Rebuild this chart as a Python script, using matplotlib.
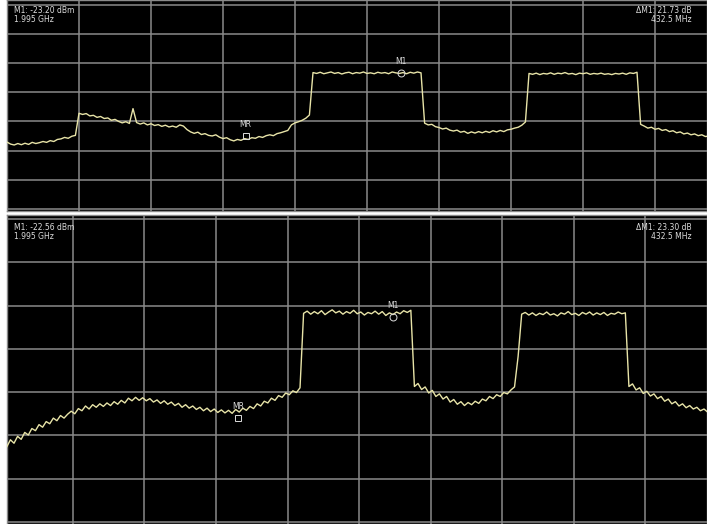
import matplotlib
matplotlib.use("Agg")
import matplotlib.pyplot as plt
import numpy as np

# --- sweep settings (MHz) ---
sweep_step_mhz = 10
top_start_mhz = 900
bottom_start_mhz = 915

# --- trace levels (dBm), one value every 10 MHz ---
top_levels = [
    -47.1, -47.8, -48.1, -47.6, -48.0, -47.5, -47.9, -47.2, -47.6, -47.3,   # 900
    -46.9, -47.2, -46.6, -46.9, -46.2, -46.0, -45.5, -45.8, -45.1, -44.8,   # 1000
    -37.2, -37.6, -37.3, -38.1, -37.9, -38.6, -38.3, -39.0, -38.8, -39.6,   # 1100
    -39.3, -40.0, -40.5, -40.1, -40.7, -35.6, -40.4, -40.9, -40.5, -41.2,   # 1200
    -40.8, -41.4, -41.1, -41.7, -41.3, -41.9, -41.6, -42.0, -41.2, -41.6,   # 1300
    -42.8, -43.6, -44.1, -43.7, -44.5, -44.2, -44.8, -45.0, -44.6, -45.4,   # 1400
    -45.9, -45.6, -46.3, -46.7, -46.2, -46.5, -45.9, -46.2, -45.6, -45.8,   # 1500
    -45.2, -45.5, -44.9, -44.6, -44.9, -44.2, -43.9, -43.5, -43.1, -41.2,   # 1600
    -40.5, -40.1, -39.6, -38.9, -37.8, -23.2, -23.5, -23.1, -23.6, -23.3,   # 1700
    -23.0, -23.5, -23.2, -23.7, -23.3, -23.1, -23.6, -23.2, -23.4, -23.0,   # 1800
    -23.5, -23.3, -23.6, -23.1, -23.4, -23.2, -23.6, -23.0, -23.3, -23.5,   # 1900
    -23.2, -23.6, -23.1, -23.4, -23.0, -23.3, -40.6, -41.2, -41.0, -41.8,   # 2000
    -42.1, -42.6, -42.3, -43.0, -43.3, -43.0, -43.7, -43.4, -44.1, -43.6,   # 2100
    -44.0, -43.5, -43.9, -43.4, -43.8, -43.2, -43.6, -43.1, -43.5, -42.9,   # 2200
    -42.7, -42.3, -42.0, -41.3, -40.2, -23.5, -23.8, -23.4, -23.9, -23.5,   # 2300
    -23.7, -23.3, -23.8, -23.4, -23.6, -23.2, -23.7, -23.5, -23.9, -23.4,   # 2400
    -23.6, -23.3, -23.8, -23.5, -23.7, -23.4, -23.8, -23.6, -23.9, -23.5,   # 2500
    -23.7, -23.4, -23.8, -23.3, -23.5, -23.1, -41.0, -41.6, -42.3, -42.0,   # 2600
    -42.7, -42.4, -43.1, -42.8, -43.5, -43.2, -43.9, -43.6, -44.3, -44.0,   # 2700
    -44.6, -44.3, -44.9, -44.6, -45.2, -45.0,                               # 2800
]

bottom_levels = [
    -52.6, -51.0, -51.8, -50.2, -50.9, -49.3, -49.9, -48.4, -48.9, -47.5,
    -48.1, -46.8, -47.3, -46.0, -46.6, -45.4, -46.0, -45.1, -44.4, -45.0,
    -43.8, -44.3, -43.2, -43.9, -42.9, -43.5, -42.7, -43.3, -42.5, -43.1,
    -42.2, -42.8, -41.9, -42.5, -41.4, -42.0, -41.2, -41.9, -41.3, -42.0,
    -41.5, -42.3, -41.8, -42.6, -42.0, -42.8, -42.3, -43.1, -42.6, -43.5,
    -42.9, -43.7, -43.2, -44.0, -43.5, -44.3, -43.7, -44.5, -43.9, -44.7,
    -44.1, -44.8, -44.2, -44.9, -44.0, -44.6, -43.7, -44.2, -43.3, -43.8,
    -42.7, -43.2, -42.1, -42.5, -41.4, -41.9, -40.8, -41.2, -40.2, -40.6,
    -39.7, -40.1, -39.0, -21.8, -21.3, -22.0, -21.4, -21.9, -21.2, -22.1,
    -21.5, -21.0, -21.7, -21.3, -22.0, -21.4, -21.8, -21.1, -21.9, -21.5,
    -22.2, -21.6, -21.9, -21.3, -22.0, -21.4, -22.3, -21.7, -22.1, -21.5,
    -21.9, -21.2, -21.6, -21.1, -38.7, -38.0, -39.4, -38.8, -40.2, -39.6,
    -41.0, -40.4, -41.6, -41.0, -42.3, -41.7, -42.8, -42.2, -43.1, -42.4,
    -42.9, -42.1, -42.6, -41.6, -42.0, -41.0, -41.5, -40.6, -41.0, -40.1,
    -40.4, -39.5, -38.8, -31.8, -22.0, -21.6, -22.2, -21.7, -22.3, -21.8,
    -22.1, -21.5, -22.2, -21.9, -22.4, -21.7, -22.0, -21.4, -22.1, -21.8,
    -22.3, -21.6, -22.0, -21.5, -22.2, -21.7, -22.1, -21.6, -22.3, -21.8,
    -22.0, -21.5, -21.9, -21.7, -38.7, -38.1, -39.5, -39.0, -40.3, -39.8,
    -40.9, -40.4, -41.5, -41.0, -42.1, -41.6, -42.7, -42.2, -43.2, -42.7,
    -43.6, -43.1, -43.9, -43.5, -44.3, -43.9, -44.6,
]

top_freq = top_start_mhz + sweep_step_mhz * np.arange(len(top_levels))
bottom_freq = bottom_start_mhz + sweep_step_mhz * np.arange(len(bottom_levels))

# --- markers ---
m1_freq = 1995.0
mr_freq = 1562.5
top_m1_level, top_mr_level = -23.20, -23.20 - 21.73
bot_m1_level, bot_mr_level = -22.56, -22.56 - 23.30

top_left_text = "M1: -23.20 dBm\n1.995 GHz"
top_right_text = "\u0394M1: 21.73 dB\n432.5 MHz"
bot_left_text = "M1: -22.56 dBm\n1.995 GHz"
bot_right_text = "\u0394M1: 23.30 dB\n432.5 MHz"

# --- style ---
W, H = 707, 524
trace_color = "#e8e4a8"
grid_color = "#8a8a8a"
text_color = "#dcdcdc"

fig = plt.figure(figsize=(W / 100, H / 100), dpi=100, facecolor="white")

ax_top = fig.add_axes([7 / W, (H - 211) / H, 700 / W, 211 / H])
ax_bot = fig.add_axes([7 / W, 0, 700 / W, 309 / H])

panels = [
    (ax_top, top_freq, top_levels, (900, 2844.4), (-70.8, 1.75),
     top_m1_level, top_mr_level, top_left_text, top_right_text),
    (ax_bot, bottom_freq, bottom_levels, (915.4, 2873.4), (-70.45, 0.9),
     bot_m1_level, bot_mr_level, bot_left_text, bot_right_text),
]

for ax, freq, levels, xlim, ylim, m1_lvl, mr_lvl, ltxt, rtxt in panels:
    ax.set_facecolor("black")
    ax.plot(freq, levels, color=trace_color, lw=1.0, zorder=3)
    # ticks first, then limits (set_xticks would widen the view otherwise)
    ax.set_xticks(np.arange(900, 3000, 200))
    ax.set_yticks(np.arange(-70, 1, 10))
    ax.set_xlim(*xlim)
    ax.set_ylim(*ylim)
    ax.grid(True, color=grid_color, lw=1.1, zorder=1)
    ax.set_axisbelow(True)
    ax.tick_params(left=False, bottom=False, labelleft=False, labelbottom=False)
    for sp in ax.spines.values():
        sp.set_color(grid_color)
        sp.set_linewidth(1.0)

    # marker symbols
    ax.plot([m1_freq], [m1_lvl], marker="o", ms=5, mfc="none", mec=text_color, mew=0.7, zorder=4)
    ax.plot([mr_freq], [mr_lvl], marker="s", ms=5, mfc="none", mec=text_color, mew=0.7, zorder=4)
    ax.annotate("M1", (m1_freq, m1_lvl), xytext=(0, 5), textcoords="offset points",
                ha="center", va="bottom", color=text_color, fontsize=5.5)
    ax.annotate("MR", (mr_freq, mr_lvl), xytext=(0, 5), textcoords="offset points",
                ha="center", va="bottom", color=text_color, fontsize=5.5)

    # readouts
    ax.text(0.01, 0.97 if ax is ax_top else 0.975, ltxt, transform=ax.transAxes,
            ha="left", va="top", color=text_color, fontsize=5.5, linespacing=1.0, zorder=5)
    ax.text(0.978, 0.97 if ax is ax_top else 0.975, rtxt, transform=ax.transAxes,
            ha="right", va="top", color=text_color, fontsize=5.5, linespacing=1.0, zorder=5)

fig.savefig("out.png", dpi=100, facecolor="white")
